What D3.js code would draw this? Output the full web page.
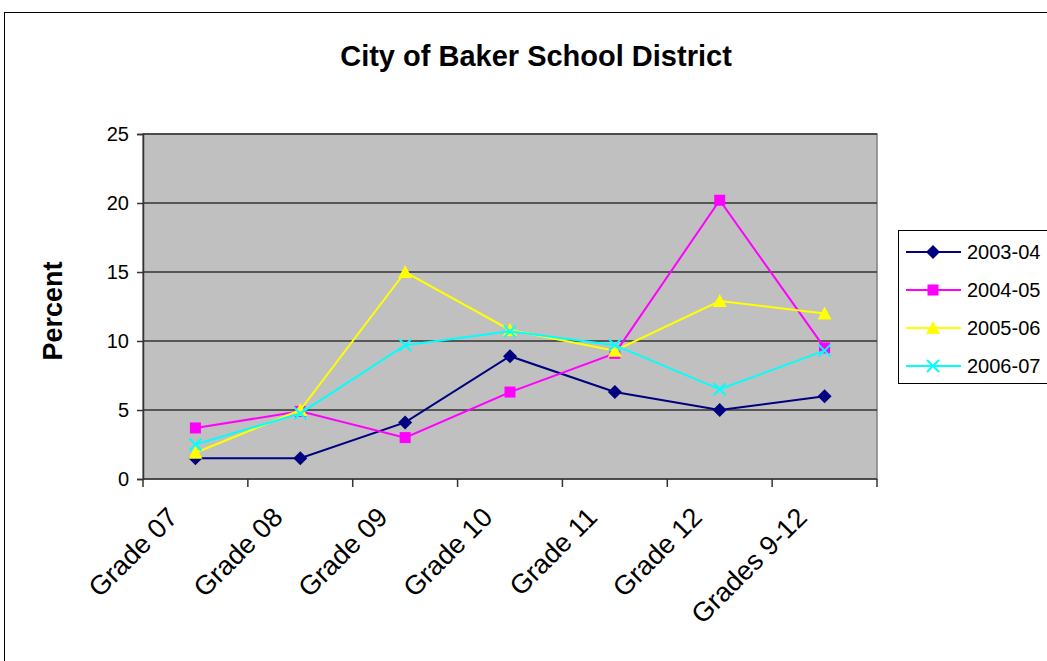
<html>
<head>
<script src="https://d3js.org/d3.v7.min.js"></script>
<style>
body { margin: 0; background: #fff; }
text { font-family: "Liberation Sans", Arial, Helvetica, sans-serif; }
</style>
</head>
<body>
<svg id="chart" width="1047" height="661"></svg>
<script>
// chart values
var grades = ['Grade 07','Grade 08','Grade 09','Grade 10','Grade 11','Grade 12','Grades 9-12'];
var years = ['2003-04','2004-05','2005-06','2006-07'];
var v0304 = [1.5, 1.5, 4.1, 8.9, 6.3, 5.0, 6.0];
var v0405 = [3.7, 4.9, 3.0, 6.3, 9.1, 20.2, 9.5];
var v0506 = [1.9, 5.0, 15.0, 10.8, 9.3, 12.9, 12.0];
var v0607 = [2.5, 4.75, 9.7, 10.7, 9.7, 6.5, 9.3];
var yTicks = [0, 5, 10, 15, 20, 25];

var colors = ['#000080', '#FF00FF', '#FFFF00', '#00FFFF'];
var shapes = ['diamond', 'square', 'triangle', 'cross'];
var series = [v0304, v0405, v0506, v0607].map(function(v, i) {
	return { name: years[i], values: v, color: colors[i], shape: shapes[i] };
});

var svg = d3.select('#chart');
var p = { left: 143, right: 877, top: 134, bottom: 479 };

// outer frame
svg.append('rect')
	.attr('x', 4.5).attr('y', 12.5)
	.attr('width', 1100).attr('height', 700)
	.attr('fill', '#fff').attr('stroke', '#000').attr('stroke-width', 1);

svg.append('text')
	.attr('x', 536).attr('y', 66)
	.attr('text-anchor', 'middle')
	.attr('font-size', '29px').attr('font-weight', 'bold')
	.text('City of Baker School District');

var x = d3.scaleBand().domain(grades).range([p.left, p.right]);
var y = d3.scaleLinear().domain([0, 25]).range([p.bottom, p.top]);

// plot area
svg.append('rect')
	.attr('x', p.left).attr('y', p.top)
	.attr('width', p.right - p.left).attr('height', p.bottom - p.top)
	.attr('fill', '#C0C0C0').attr('stroke', '#808080').attr('stroke-width', 1.5);

svg.selectAll('.grid')
	.data(yTicks.filter(function(d) { return d > 0; }))
	.enter().append('line')
	.attr('x1', p.left).attr('x2', p.right)
	.attr('y1', function(d) { return y(d); })
	.attr('y2', function(d) { return y(d); })
	.attr('stroke', '#333').attr('stroke-width', 1.5);

// y axis
var yAxis = svg.append('g')
	.attr('transform', 'translate(' + p.left + ',0)')
	.call(d3.axisLeft(y).tickValues(yTicks).tickSize(6).tickPadding(8));
yAxis.select('.domain').attr('stroke', '#333').attr('stroke-width', 1.5);
yAxis.selectAll('.tick line').attr('stroke', '#333').attr('stroke-width', 1.5);
yAxis.selectAll('.tick text')
	.attr('font-size', '20px').attr('fill', '#000')
	.attr('font-family', '"Liberation Sans", Arial, sans-serif');

// x axis: ticks sit between categories
var xAxisG = svg.append('g');
xAxisG.append('line')
	.attr('x1', p.left).attr('x2', p.right)
	.attr('y1', p.bottom).attr('y2', p.bottom)
	.attr('stroke', '#333').attr('stroke-width', 1.5);
var bounds = grades.map(function(g) { return x(g); }).concat([p.right]);
xAxisG.selectAll('.xtick')
	.data(bounds)
	.enter().append('line')
	.attr('x1', function(d) { return d; }).attr('x2', function(d) { return d; })
	.attr('y1', p.bottom).attr('y2', p.bottom + 8)
	.attr('stroke', '#333').attr('stroke-width', 1.5);
xAxisG.selectAll('.xlabel')
	.data(grades)
	.enter().append('text')
	.attr('text-anchor', 'end')
	.attr('font-size', '27px')
	.attr('transform', function(d) {
		var cx = x(d) + x.bandwidth() / 2;
		return 'translate(' + (cx - 16) + ',' + (p.bottom + 40) + ') rotate(-45)';
	})
	.text(function(d) { return d; });

svg.append('text')
	.attr('transform', 'translate(62,311) rotate(-90)')
	.attr('text-anchor', 'middle')
	.attr('font-size', '27px').attr('font-weight', 'bold')
	.text('Percent');

// markers
function marker(sel, shape, color) {
	if (shape === 'diamond') {
		sel.append('path').attr('d', 'M0,-7L7,0L0,7L-7,0Z').attr('fill', color);
	} else if (shape === 'square') {
		sel.append('rect').attr('x', -5.5).attr('y', -5.5).attr('width', 11).attr('height', 11).attr('fill', color);
	} else if (shape === 'triangle') {
		sel.append('path').attr('d', 'M0,-7L7,6L-7,6Z').attr('fill', color);
	} else {
		sel.append('path').attr('d', 'M-6,-6L6,6M-6,6L6,-6').attr('stroke', color).attr('stroke-width', 2).attr('fill', 'none');
	}
}

var line = d3.line()
	.x(function(d, i) { return x(grades[i]) + x.bandwidth() / 2; })
	.y(function(d) { return y(d); });

series.forEach(function(s) {
	var g = svg.append('g');
	g.append('path')
		.attr('d', line(s.values))
		.attr('fill', 'none').attr('stroke', s.color).attr('stroke-width', 2);
	g.selectAll('.pt')
		.data(s.values)
		.enter().append('g')
		.attr('transform', function(d, i) {
			return 'translate(' + (x(grades[i]) + x.bandwidth() / 2) + ',' + y(d) + ')';
		})
		.each(function() { marker(d3.select(this), s.shape, s.color); });
});

// legend
var lg = svg.append('g');
lg.append('rect')
	.attr('x', 898.5).attr('y', 230.5)
	.attr('width', 200).attr('height', 153)
	.attr('fill', '#fff').attr('stroke', '#000').attr('stroke-width', 1);
var item = lg.selectAll('.item')
	.data(series)
	.enter().append('g')
	.attr('transform', function(d, i) { return 'translate(0,' + (252 + i * 38) + ')'; });
item.append('line')
	.attr('x1', 906).attr('x2', 961)
	.attr('stroke', function(d) { return d.color; }).attr('stroke-width', 2);
item.append('g')
	.attr('transform', 'translate(933,0)')
	.each(function(d) { marker(d3.select(this), d.shape, d.color); });
item.append('text')
	.attr('x', 967).attr('y', 7)
	.attr('font-size', '20px')
	.text(function(d) { return d.name; });
</script>
</body>
</html>
